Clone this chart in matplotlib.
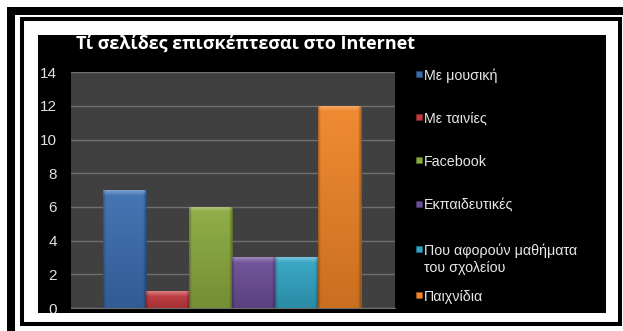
import numpy as np
import matplotlib.pyplot as plt
import matplotlib.colors as mcolors
from matplotlib.patches import Rectangle

# Survey answers: which websites the pupils visit
categories = ["Με μουσική", "Με ταινίες", "Facebook", "Εκπαιδευτικές",
              "Που αφορούν μαθήματα\nτου σχολείου", "Παιχνίδια"]
counts = [7, 1, 6, 3, 3, 12]
colors = ["#3a6db0", "#c4393f", "#8aaa3e", "#6c4d98", "#31a5c5", "#f08426"]
y_ticks = [0, 2, 4, 6, 8, 10, 12, 14]
title = "Τί σελίδες επισκέπτεσαι στο Internet"

W, H = 623, 331
plt.rcParams['font.family'] = ['Liberation Sans', 'DejaVu Sans']
fig = plt.figure(figsize=(W / 100, H / 100), dpi=100, facecolor="white")


def fx(x):
    return x / W


def fy(y):
    return 1 - y / H


def box(x0, y0, x1, y1, **kw):
    # rectangle given in pixel coords measured from the top-left corner
    r = Rectangle((fx(x0), fy(y1)), fx(x1) - fx(x0), fy(y0) - fy(y1),
                  transform=fig.transFigure, **kw)
    fig.patches.append(r)
    return r


# double frame around the picture
box(7, 7, W, 15, facecolor="black", edgecolor="none")
box(7, 7, 15, H, facecolor="black", edgecolor="none")
box(22, 19, 620, 324, facecolor="none", edgecolor="black", lw=2.9)
chart_bg = box(38, 35, 606, 313, facecolor="black", edgecolor="none")

ax = fig.add_axes([fx(70.7), fy(308), fx(395) - fx(70.7), fy(72.3) - fy(308)])
ax.set_facecolor("#404040")
ax.set_zorder(2)

x = np.arange(len(counts))
bars = ax.bar(x, counts, width=1.0, color=colors, zorder=3)
ax.set_xlim(-1.26, 6.29)
ax.set_ylim(0, 14)


def shade(c, f):
    rgb = np.array(mcolors.to_rgb(c))
    if f >= 0:
        return rgb + (1 - rgb) * f
    return rgb * (1 + f)


# give every bar a soft vertical gradient and a light bevel on top
for bar, c in zip(bars, colors):
    x0, w, h = bar.get_x(), bar.get_width(), bar.get_height()
    rows = 300
    t = np.linspace(0, 1, rows)[:, None]            # 0 at top, 1 at bottom
    dist = t * h                                    # distance from the top in data units
    base = shade(c, 0.06) * (1 - t) + shade(c, -0.16) * t
    bevel = np.clip(1 - dist / 0.32, 0, 1)
    img = base * (1 - bevel) + shade(c, 0.35) * bevel
    cols = 60
    u = np.linspace(0, 1, cols)[None, :]
    edge = np.clip(1 - np.minimum(u, 1 - u) / 0.06, 0, 1)
    img = img[:, None, :] * (1 - 0.25 * edge[..., None])
    im = ax.imshow(img, extent=[x0, x0 + w, 0, h], aspect="auto", zorder=4,
                   interpolation="bilinear")
    im.set_clip_path(bar)
    bar.set_edgecolor(shade(c, -0.35))
    bar.set_linewidth(0.6)

ax.set_yticks(y_ticks)
ax.set_xticks([])
ax.yaxis.grid(True, color="#6f6f6f", lw=1.0)
ax.set_axisbelow(True)
for s in ["left", "right", "top"]:
    ax.spines[s].set_visible(False)
ax.spines["bottom"].set_color("#6f6f6f")
ax.tick_params(axis="y", length=0, pad=10, labelsize=11, labelcolor="#e0e0e0")
for lbl in ax.get_yticklabels():
    lbl.set_clip_path(chart_bg)

fig.text(fx(76.5), fy(49.3), title, color="white", fontsize=13.0,
         fontweight="bold", family=["Open Sans", "DejaVu Sans"], va="baseline")

# legend, one entry per category
legend_y = [74, 116.7, 160, 204, 249, 295]
for cat, c, ly in zip(categories, colors, legend_y):
    box(415.5, ly - 3, 421.5, ly + 3, facecolor=c, edgecolor=shade(c, -0.3), lw=0.4)
    for j, line in enumerate(cat.split("\n")):
        fig.text(fx(423.5), fy(ly + j * 17.5), line, color="#e8e8e8", fontsize=10.3,
                 va="center_baseline")

fig.savefig("out.png", dpi=100, facecolor="white")
